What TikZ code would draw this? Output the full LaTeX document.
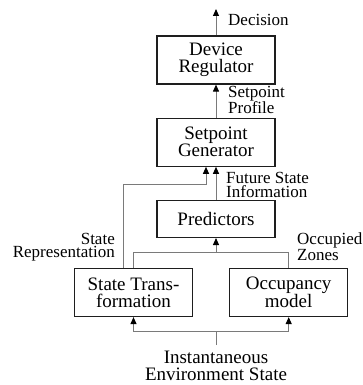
\documentclass[tikz,border=0pt]{standalone}
\usepackage{fontspec}
\setmainfont{Liberation Serif}
\usetikzlibrary{positioning,arrows.meta}
\definecolor{edge}{HTML}{1E1E1E}
\definecolor{wire}{HTML}{7A7A7A}
\tikzset{
  blk/.style={rectangle, draw=edge, line width=1.2pt, minimum width=118pt,
              minimum height=48pt, inner sep=0pt, align=center,
              font=\fontsize{19}{17}\selectfont},
  lbl/.style={inner sep=0pt, font=\fontsize{17}{13.5}\selectfont},
  link/.style={draw=wire, line width=1pt},
  flow/.style={link, -{Triangle[length=7pt,width=6pt,color=black]}}
}
\begin{document}
\begin{tikzpicture}[x=1pt,y=-1pt,node distance=33pt]
\useasboundingbox (0,0) rectangle (362,385);
\node[blk] (reg) at (216,60) {Device\\Regulator};
\node[blk, below=of reg] (gen) {Setpoint\\Generator};
\node[blk, below=of gen, minimum height=37pt] (pred) {Predictors};
\node[blk] (trans) at (133.5,292.5) {State Trans-\\formation};
\node[blk, right=36pt of trans] (occ) {Occupancy\\model};
\coordinate (dec) at (216,9);
\coordinate (sr) at (206,184);
\coordinate (jn) at (216,252);
\coordinate (env) at (216,345);
\coordinate (split) at (216,331);
\draw[flow] (reg) -- (dec);
\draw[flow] (gen) -- (reg);
\draw[flow] (pred) -- (gen);
\draw[flow] ([xshift=-10.5pt]trans.north) |- (sr) -- (sr |- gen.south);
\draw[link] (trans.north) |- (occ.north |- jn) -- (occ.north);
\draw[flow] (jn) -- (pred);
\draw[link] (env) -- (split);
\draw[flow] (split) -| (trans);
\draw[flow] (split) -| (occ);
\node[lbl, anchor=west] (declbl) at (228,20) {Decision};
\node[lbl, anchor=west, align=left] (splbl) at (228,100) {Setpoint\\Profile};
\node[lbl, anchor=west, align=left] (fslbl) at (226,185) {Future State\\Information};
\node[lbl, anchor=east, align=right] (srlbl) at (115,247) {State\\Representation};
\node[lbl, anchor=west, align=left] (ozlbl) at (297,247) {Occupied\\Zones};
\node[lbl, font=\fontsize{19}{17}\selectfont, align=center] (envlbl) at (216,366) {Instantaneous\\Environment State};
\end{tikzpicture}
\end{document}
